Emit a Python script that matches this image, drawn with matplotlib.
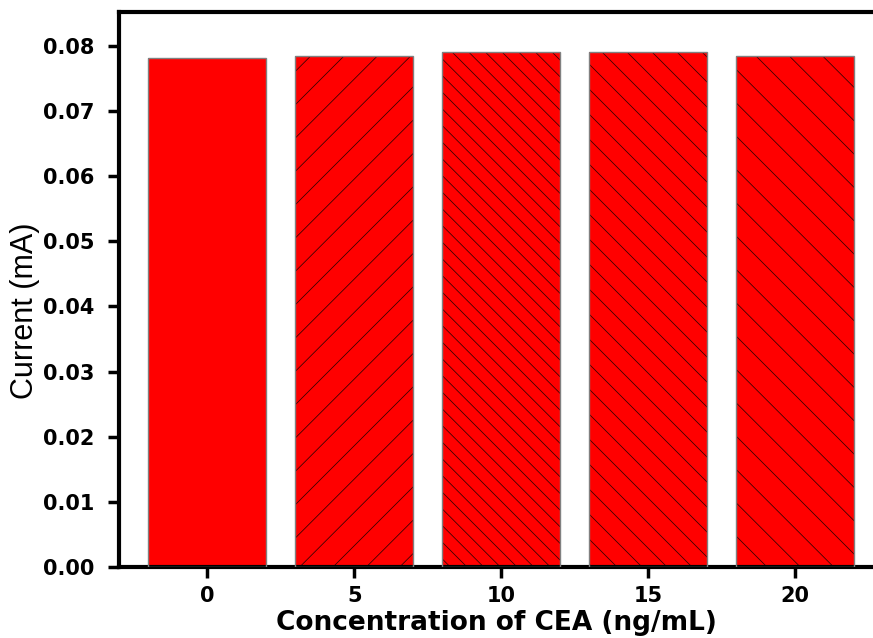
import matplotlib
matplotlib.use("Agg")
import matplotlib.pyplot as plt
import matplotlib.hatch as mhatch

# --- data ---
concentrations = [0, 5, 10, 15, 20]
currents = [0.0782, 0.0785, 0.0790, 0.0790, 0.0785]
hatches = ['', '/', '\\\\\\', '\\\\', '\\']
xtick_labels = ['0', '5', '10', '15', '20']
yticks = [0.00, 0.01, 0.02, 0.03, 0.04, 0.05, 0.06, 0.07, 0.08]

# custom density for backslash hatches (1 -> sparse, 2 -> medium, 3 -> dense)
_BS = getattr(mhatch, 'SouthEastHatch')
_orig_init = _BS.__init__
def _bs_init(self, hatch, density):
    _orig_init(self, hatch, density)
    n = hatch.count('\\')
    mapping = {1: 6, 2: 8, 3: 12}
    if n in mapping:
        self.num_lines = mapping[n]
        self.num_vertices = (self.num_lines + 1) * 2
_BS.__init__ = _bs_init

plt.rcParams['font.family'] = ['Liberation Sans', 'DejaVu Sans']
plt.rcParams['hatch.linewidth'] = 0.55

fig = plt.figure(figsize=(8.73, 6.38), dpi=100)
ax = fig.add_axes([119/873, 71/638, (883.4-119)/873, 555/638])

for x, y, h in zip(concentrations, currents, hatches):
    # filled bar with dark hatch lines
    ax.bar(x, y, width=4.0, color='#ff0000', edgecolor='#300000',
           linewidth=0, hatch=h, zorder=2)
    # thin grey outline
    ax.bar(x, y, width=4.0, fill=False, edgecolor='#808080',
           linewidth=1.0, zorder=3)

ax.set_xlim(-3, 23)
ax.set_ylim(0, 0.0852)
ax.set_xticks(concentrations)
ax.set_xticklabels(xtick_labels)
ax.set_yticks(yticks)
ax.set_yticklabels([f'{v:.2f}' for v in yticks])

for s in ['left', 'top', 'bottom', 'right']:
    ax.spines[s].set_linewidth(3)
    ax.spines[s].set_color('black')

ax.tick_params(axis='both', direction='out', length=8, width=2.5,
               labelsize=15, color='black')
ax.tick_params(axis='y', pad=9.5)
ax.tick_params(axis='x', pad=6)
for lab in ax.get_xticklabels() + ax.get_yticklabels():
    lab.set_fontweight('bold')
    lab.set_family(['DejaVu Sans'])

ax.set_ylabel('Current (mA)', fontsize=22)
ax.yaxis.set_label_coords(-0.1028, 0.461)
ax.set_xlabel('Concentration of CEA (ng/mL)', fontsize=19, fontweight='bold',
              family=['DejaVu Sans'])
ax.xaxis.set_label_coords(0.4935, -0.0775)

fig.savefig('out.png', dpi=100)
